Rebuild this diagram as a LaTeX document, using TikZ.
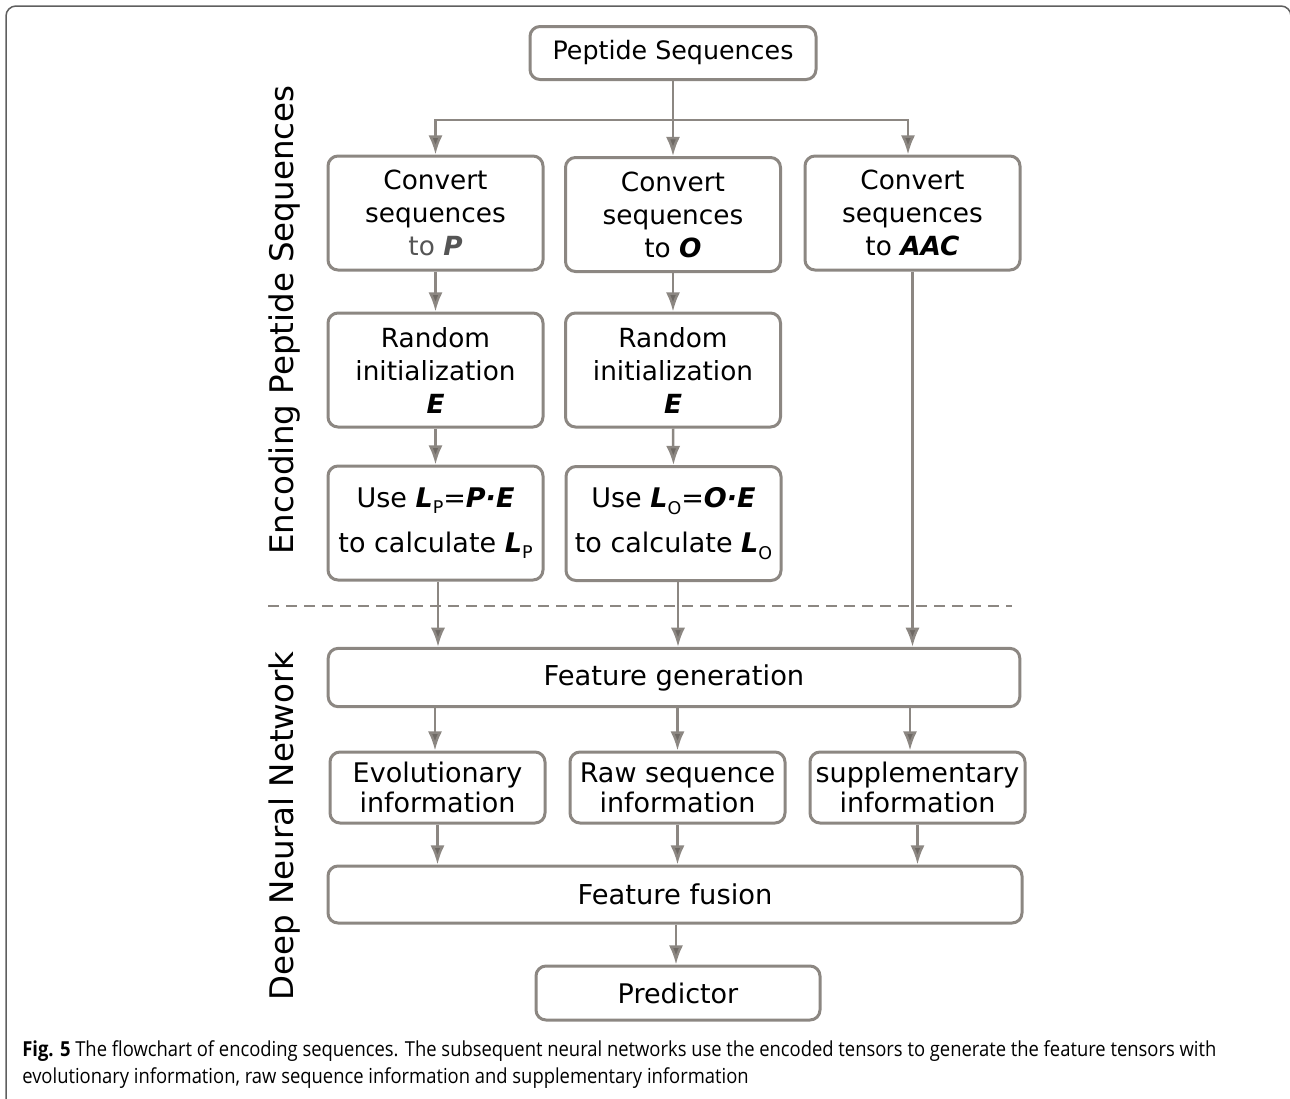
\documentclass[tikz,border=0pt]{standalone}
\usepackage{fontspec}
\setmainfont{DejaVu Sans}
\newfontfamily\capfont[FakeStretch=0.89]{Open Sans}
\usetikzlibrary{arrows.meta}

\definecolor{boxgray}{RGB}{140,135,130}
\definecolor{tipgray}{RGB}{110,105,100}
\definecolor{togray}{RGB}{85,85,85}
\definecolor{framegray}{RGB}{95,95,95}

\tikzset{
  flowbox/.style={draw=boxgray, line width=1.8pt, rounded corners=6pt, fill=white,
    align=center, inner sep=0pt, minimum width=129pt, minimum height=68.4pt,
    font=\fontsize{15.8}{19.8}\selectfont},
  usebox/.style={flowbox, font=\fontsize{16.2}{27}\selectfont},
  infobox/.style={flowbox, minimum height=42.6pt, font=\fontsize{16.2}{18}\selectfont},
  widebox/.style={flowbox, minimum width=415pt, minimum height=35pt, font=\fontsize{16.4}{20}\selectfont},
  flowarrow/.style={draw=boxgray, line width=1.5pt,
    -{Latex[length=11.5pt, width=8.5pt, fill=tipgray]}},
  sidelabel/.style={rotate=90, font=\fontsize{19.5}{24}\selectfont},
  capline/.style={anchor=base west, inner sep=0pt, font=\capfont\fontsize{12.4}{16}\selectfont},
}
\newcommand{\bv}[1]{\textbf{\textit{#1}}}
\newcommand{\sub}[1]{\raisebox{-0.45ex}{\fontsize{10.5}{10.5}\selectfont #1}}

\begin{document}
\begin{tikzpicture}[x=0.6pt, y=-0.6pt]
  \useasboundingbox (0,0) rectangle (1290,1098);
  \draw[framegray, line width=0.9pt, rounded corners=6pt] (6,1130) -- (6,6) -- (1291,6) -- (1291,1130);

  % encoding part
  \node[flowbox, minimum width=171.6pt, minimum height=31.8pt, font=\fontsize{15.2}{19}\selectfont] (pep) at (673,53) {Peptide Sequences};
  \node[flowbox] (cvP) at (435.5,213) {Convert\\sequences\\{\color{togray}to \bv{P}}};
  \node[flowbox] (cvO) at (673,214.5) {Convert\\sequences\\to \bv{O}};
  \node[flowbox] (cvA) at (912.5,213) {Convert\\sequences\\to \bv{AAC}};
  \node[flowbox] (rndP) at (435.5,370) {Random\\initialization\\\bv{E}};
  \node[flowbox] (rndO) at (673,370) {Random\\initialization\\\bv{E}};
  \node[usebox] (useP) at (435.5,523) {Use \bv{L}\sub{P}=\bv{P·E}\\to calculate \bv{L}\sub{P}};
  \node[usebox] (useO) at (673.5,523.5) {Use \bv{L}\sub{O}=\bv{O·E}\\to calculate \bv{L}\sub{O}};

  % network part
  \node[widebox] (fgen) at (674,677.5) {Feature generation};
  \node[infobox] (evo) at (437.5,787.5) {Evolutionary\\information};
  \node[infobox] (raw) at (677.5,787.5) {Raw sequence\\information};
  \node[infobox] (sup) at (917.5,787.5) {supplementary\\information};
  \node[widebox, minimum width=416.4pt, minimum height=34.2pt] (fus) at (675,894.5) {Feature fusion};
  \node[flowbox, minimum width=170.4pt, minimum height=32.4pt, font=\fontsize{16.2}{19}\selectfont] (pred) at (678,993) {Predictor};

  \node[sidelabel] (encLabel) at (285,320) {Encoding Peptide Sequences};
  \node[sidelabel] (dnnLabel) at (285,826) {Deep Neural Network};

  % arrows
  \coordinate (split) at (673,120);
  \draw[flowarrow] (pep.south) -- (cvO.north);
  \draw[flowarrow] (split) -| (cvP.north);
  \draw[flowarrow] (split) -| ([xshift=-2.7pt]cvA.north);
  \draw[flowarrow] (cvP.south) -- (rndP.north);
  \draw[flowarrow] (cvO.south) -- (rndO.north);
  \draw[flowarrow] (rndP.south) -- (useP.north);
  \draw[flowarrow] (rndO.south) -- (useO.north);
  \draw[flowarrow] ([xshift=1.5pt]useP.south) -- ([xshift=1.5pt]useP.south |- fgen.north);
  \draw[flowarrow] ([xshift=2.7pt]useO.south) -- ([xshift=2.7pt]useO.south |- fgen.north);
  \draw[flowarrow] (cvA.south) -- (cvA.south |- fgen.north);
  \draw[flowarrow] ([xshift=-1.5pt]evo.north |- fgen.south) -- ([xshift=-1.5pt]evo.north);
  \draw[flowarrow] (raw.north |- fgen.south) -- (raw.north);
  \draw[flowarrow] ([xshift=-4.5pt]sup.north |- fgen.south) -- ([xshift=-4.5pt]sup.north);
  \draw[flowarrow] (evo.south) -- (evo.south |- fus.north);
  \draw[flowarrow] (raw.south) -- (raw.south |- fus.north);
  \draw[flowarrow] (sup.south) -- (sup.south |- fus.north);
  \draw[flowarrow] ([xshift=-1.2pt]pred.north |- fus.south) -- ([xshift=-1.2pt]pred.north);

  % dashed separator
  \coordinate (dashL) at (268,606);
  \coordinate (dashR) at (1012,606);
  \draw[boxgray, line width=1.5pt, dash pattern=on 6.3pt off 4.5pt] (dashL) -- (dashR);

  % caption
  \node[capline] (cap1) at (22,1056) {\textbf{Fig. 5} The flowchart of encoding sequences. The subsequent neural networks use the encoded tensors to generate the feature tensors with};
  \node[capline] (cap2) at (22,1083) {evolutionary information, raw sequence information and supplementary information};
\end{tikzpicture}
\end{document}
